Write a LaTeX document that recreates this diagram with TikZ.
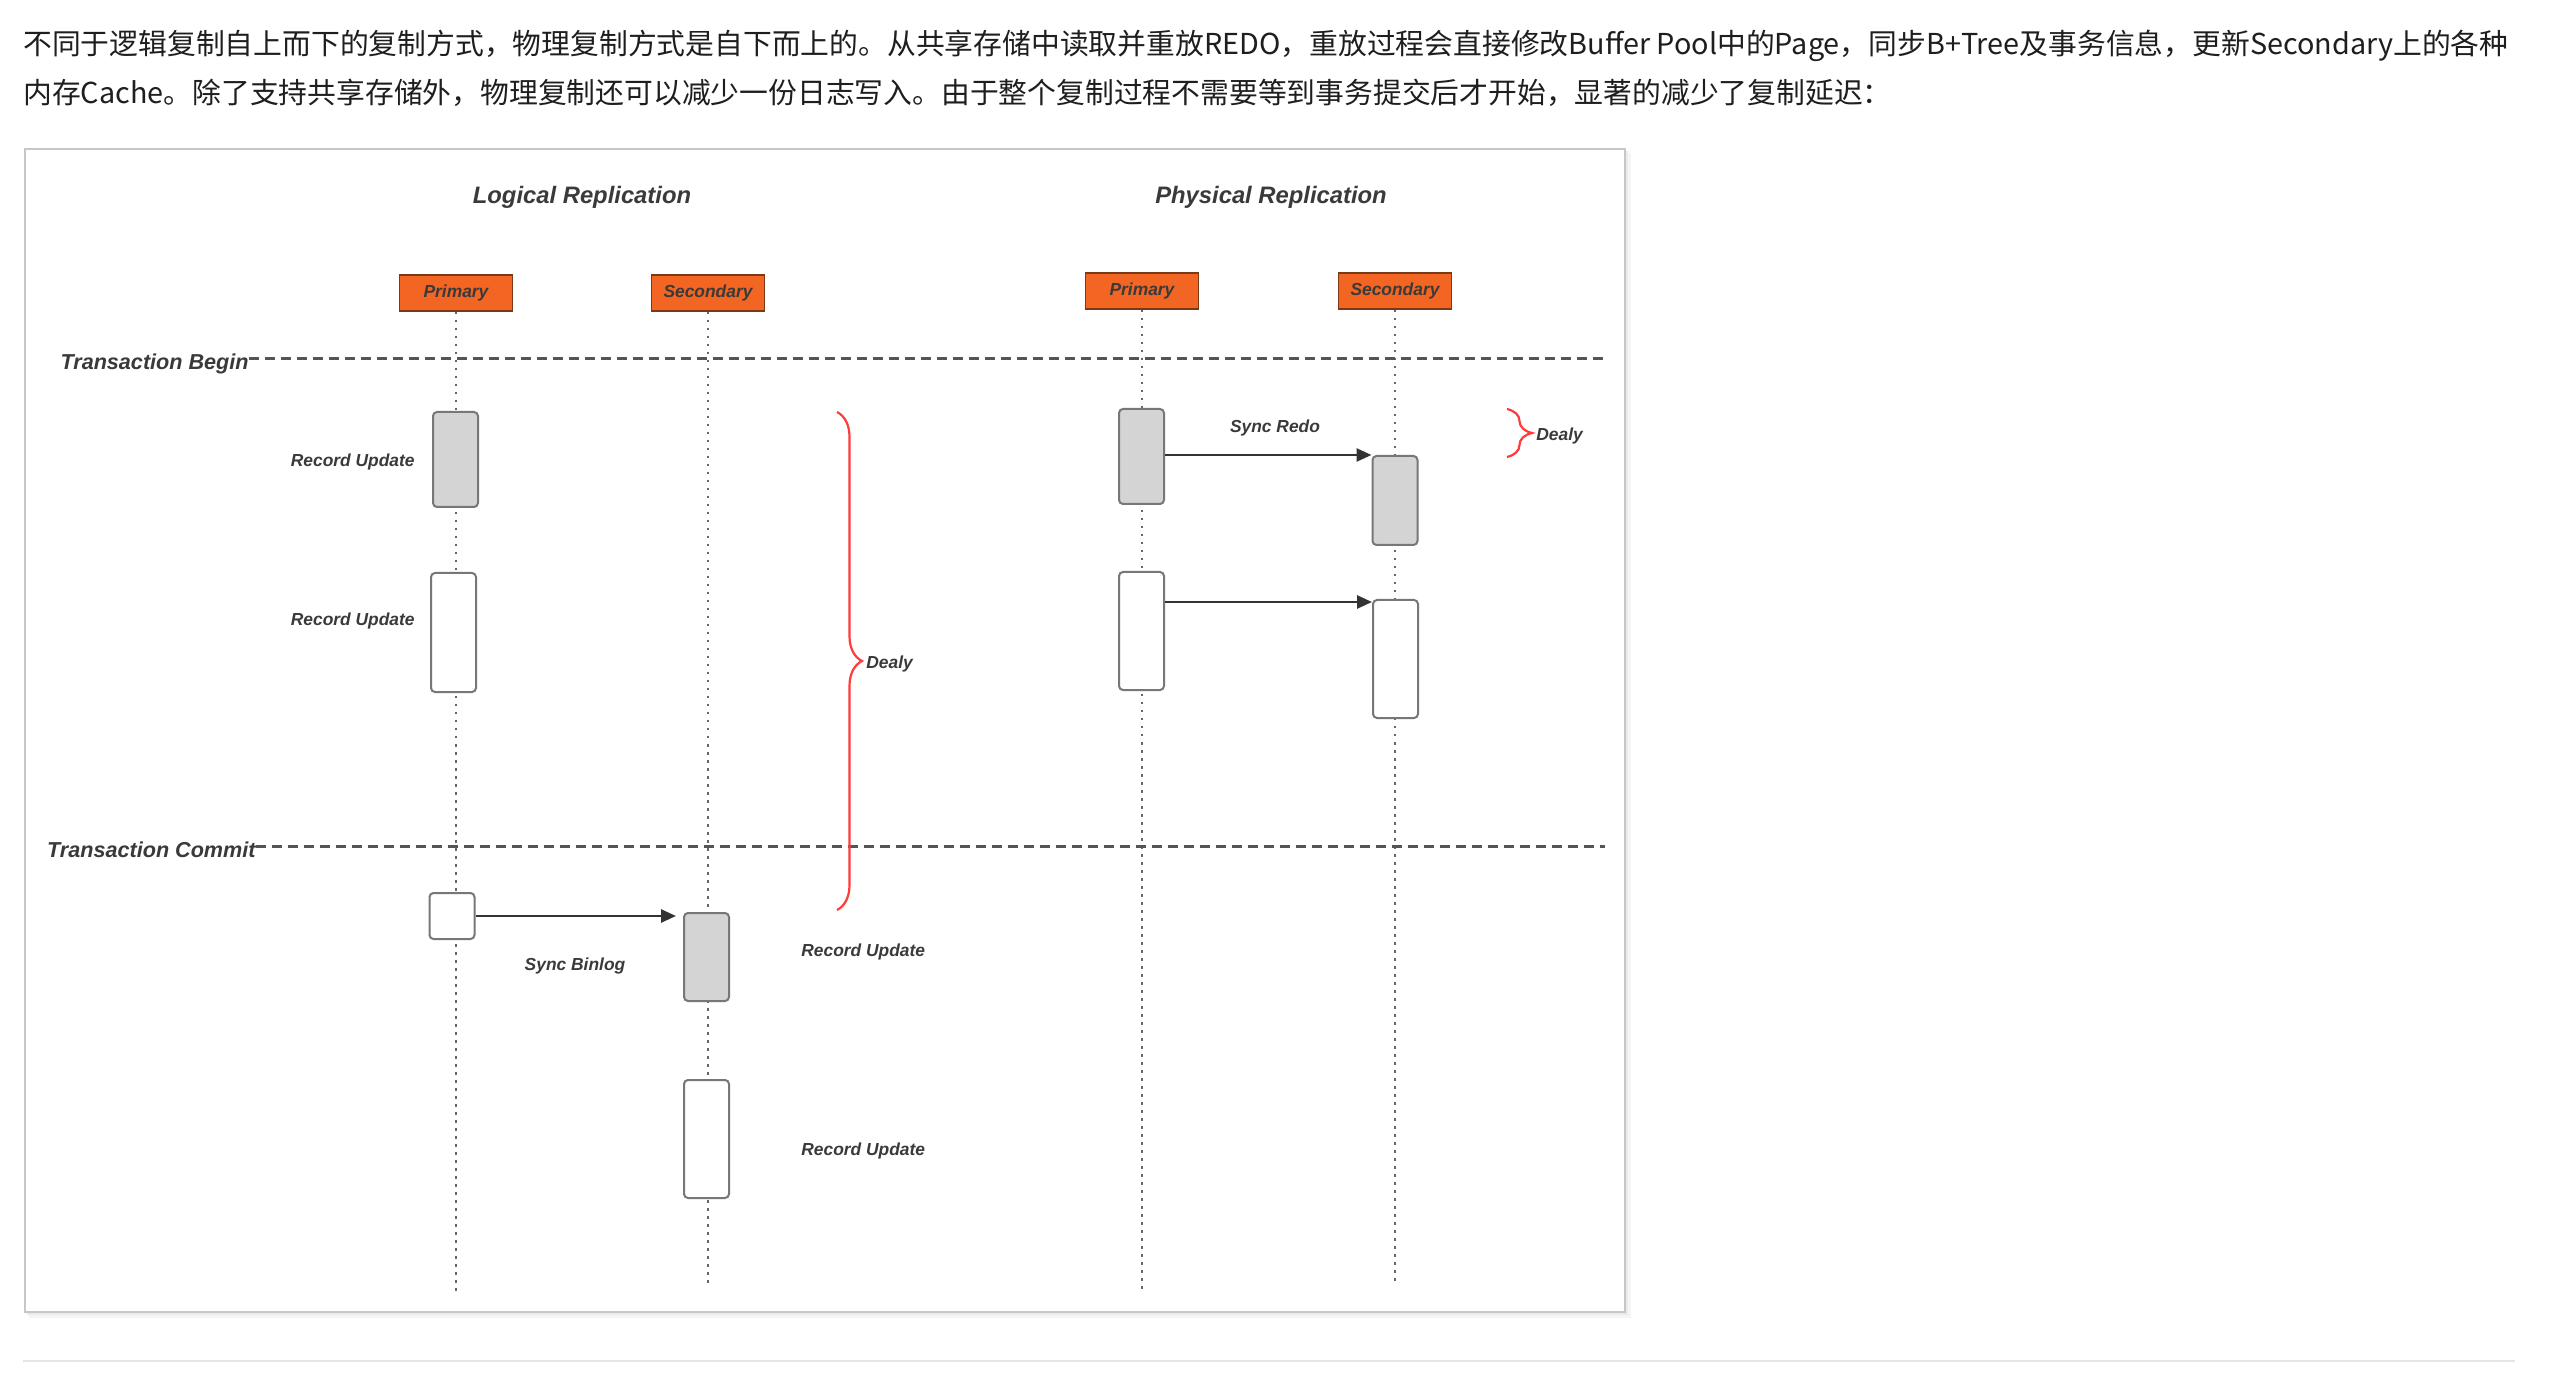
\documentclass[tikz,border=0pt]{standalone}
\usepackage{fontspec}
\setmainfont{Liberation Sans}
\newfontfamily\cjk{Noto Sans CJK SC}
\usetikzlibrary{arrows.meta,decorations.pathreplacing}
\definecolor{hdr}{HTML}{F26522}
\definecolor{hdrb}{HTML}{7A3A18}
\definecolor{txt}{HTML}{3A3A3A}
\definecolor{actf}{HTML}{D4D4D4}
\definecolor{actb}{HTML}{777777}
\definecolor{lifec}{HTML}{666666}
\definecolor{dashc}{HTML}{555555}
\definecolor{arrc}{HTML}{333333}
\definecolor{redc}{HTML}{FF3B3B}
\definecolor{para}{HTML}{1E1E1E}
\begin{document}
\begin{tikzpicture}[x=0.5pt,y=-0.5pt,
  lbl/.style={font=\fontsize{8.7}{10}\selectfont\bfseries\itshape, text=txt, inner sep=0pt},
  title/.style={font=\fontsize{11.9}{14}\selectfont\bfseries\itshape, text=txt, inner sep=0pt},
  trans/.style={font=\fontsize{10.8}{13}\selectfont\bfseries\itshape, text=txt, inner sep=0pt},
  hdrbox/.style={draw=hdrb, fill=hdr, line width=0.7pt, minimum width=56.5pt, minimum height=18pt, inner sep=0pt, font=\fontsize{8.7}{10}\selectfont\bfseries\itshape, text=txt},
  act/.style={draw=actb, line width=1pt, rounded corners=2pt, minimum width=22.5pt, inner sep=0pt},
  actg/.style={act, fill=actf},
  actw/.style={act, fill=white},
  life/.style={draw=lifec, line width=1.4pt, dash pattern=on 1.4pt off 2.6pt},
  sepline/.style={draw=dashc, line width=1.5pt, dash pattern=on 5pt off 3pt},
  msg/.style={draw=arrc, line width=1.3pt, -{Triangle[length=7.5pt,width=6.5pt]}},
  brc/.style={draw=redc, line width=1.1pt, decorate, decoration={brace, amplitude=12.5pt}},
  parat/.style={font=\cjk\fontsize{14.4}{16}\selectfont, text=para, inner sep=0pt, anchor=west}
]
\useasboundingbox[fill=white] (0,0) rectangle (2556,1390);

% paragraph text
\node[parat] (p1) at (23,46) {不同于逻辑复制自上而下的复制方式，物理复制方式是自下而上的。从共享存储中读取并重放REDO，重放过程会直接修改Buffer Pool中的Page，同步B+Tree及事务信息，更新Secondary上的各种};
\node[parat] (p2) at (23,93) {内存Cache。除了支持共享存储外，物理复制还可以减少一份日志写入。由于整个复制过程不需要等到事务提交后才开始，显著的减少了复制延迟：};

% frame with soft shadow
\fill[black!4] (29,153) rectangle (1631,1318);
\fill[black!8] (27,151) rectangle (1628,1315);
\draw[black!22, line width=0.8pt, fill=white] (25,149) rectangle (1625,1312);

% bottom separator
\draw[black!10, line width=1pt] (23,1361) -- (2515,1361);

% titles
\node[title] (tL) at (582,197) {Logical Replication};
\node[title] (tP) at (1271,197) {Physical Replication};

% headers
\node[hdrbox] (hPL) at (456,293) {Primary};
\node[hdrbox] (hSL) at (708,293) {Secondary};
\node[hdrbox] (hPP) at (1142,291) {Primary};
\node[hdrbox] (hSP) at (1395,291) {Secondary};

% lifelines
\coordinate (ePL) at (456,1293);
\coordinate (eSL) at (708,1285);
\coordinate (ePP) at (1142,1292);
\coordinate (eSP) at (1395,1283);
\draw[life] (hPL.south) -- (ePL);
\draw[life] (hSL.south) -- (eSL);
\draw[life] (hPP.south) -- (ePP);
\draw[life] (hSP.south) -- (eSP);

% transaction lines
\node[trans, anchor=east] (tb) at (249,364) {Transaction Begin};
\coordinate (tbe) at (1603,359);
\draw[sepline] (tb.east |- tbe) -- (tbe);
\node[trans, anchor=east] (tc) at (256,850) {Transaction Commit};
\coordinate (tce) at (1605,846);
\draw[sepline] (tc.east |- tce) -- (tce);

% activation boxes - logical
\node[actg, minimum height=47.5pt] (L1) at (455.5,459.5) {};
\node[actw, minimum height=59.5pt] (L2) at (453.5,632.5) {};
\node[actw, minimum height=23pt] (L3) at (452,916) {};
\node[actg, minimum height=44pt] (LS1) at (706.5,957) {};
\node[actw, minimum height=59pt] (LS2) at (706.5,1139) {};
% activation boxes - physical
\node[actg, minimum height=47.5pt] (P1) at (1141.5,456.5) {};
\node[actg, minimum height=44.5pt] (S1) at (1395,500.5) {};
\node[actw, minimum height=59pt] (P2) at (1141.5,631) {};
\node[actw, minimum height=59pt] (S2) at (1395.5,659) {};

% messages
\draw[msg] (P1.east |- S1.north) -- (S1.north west);
\draw[msg] ([yshift=-1.5pt]P2.east |- S2.north) -- ([yshift=-1.5pt]S2.north west);
\draw[msg, shorten >=3.5pt] (L3.east) -- (L3.east -| LS1.west);

% labels
\node[lbl, anchor=east] (rL1) at (415,462) {Record Update};
\node[lbl, anchor=east] (rL2) at (415,621) {Record Update};
\node[lbl, anchor=west] (rS1) at (801,952) {Record Update};
\node[lbl, anchor=west] (rS2) at (801,1151) {Record Update};
\node[lbl] (sb) at (575,966) {Sync Binlog};
\node[lbl] (sr) at (1275,428) {Sync Redo};

% braces
\coordinate (bT) at (837,412);
\coordinate (bB) at (837,910);
\draw[brc] (bT) -- (bB);
\node[lbl, anchor=west] (d1) at (866,664) {Dealy};
\coordinate (cT) at (1507,409);
\coordinate (cB) at (1507,457);
\draw[brc] (cT) -- (cB);
\node[lbl, anchor=west] (d2) at (1536,436) {Dealy};
\end{tikzpicture}
\end{document}
